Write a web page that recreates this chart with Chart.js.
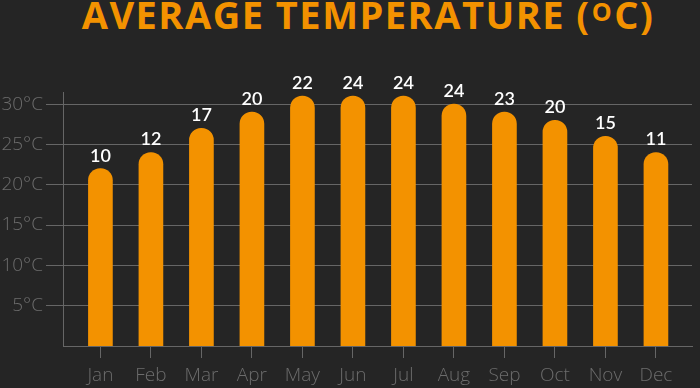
<!DOCTYPE html>
<html>
<head>
<meta charset="utf-8">
<script src="https://cdn.jsdelivr.net/npm/chart.js@4/dist/chart.umd.min.js"></script>
<style>
  html, body { margin: 0; padding: 0; background: #252525; }
  #wrap { position: relative; width: 700px; height: 388px; }
  #title {
    position: absolute; left: 0; top: -8px; width: 736px; text-align: center;
    font-family: "Open Sans", sans-serif; font-weight: 700; font-size: 38px;
    color: #f39200; line-height: 1.2; white-space: nowrap; letter-spacing: 1.5px;
  }
  #title sup { font-size: 0.66em; position: relative; top: -0.3em; vertical-align: baseline; margin: 0 1px; }
  canvas { position: absolute; left: 0; top: 0; }
</style>
</head>
<body>
<div id="wrap">
  <div id="title">AVERAGE TEMPERATURE (<sup>O</sup>C)</div>
  <canvas id="chart" width="700" height="388"></canvas>
</div>
<script>
const months = ['Jan', 'Feb', 'Mar', 'Apr', 'May', 'Jun', 'Jul', 'Aug', 'Sep', 'Oct', 'Nov', 'Dec'];
const highs = [22, 24, 27, 29, 31, 31, 31, 30, 29, 28, 26, 24];
const averages = [10, 12, 17, 20, 22, 24, 24, 24, 23, 20, 15, 11];
const yTicks = [5, 10, 15, 20, 25, 30];

const orange = '#f39200';
const gridColor = '#666666';
const tickColor = '#6c6c6c';

// average value written above each bar
const valueLabels = {
    id: 'valueLabels',
    afterDatasetsDraw(chart) {
        const ctx = chart.ctx;
        const meta = chart.getDatasetMeta(0);
        ctx.save();
        ctx.fillStyle = '#ffffff';
        ctx.font = '600 18px Lato, sans-serif';
        ctx.textAlign = 'center';
        ctx.textBaseline = 'alphabetic';
        meta.data.forEach((bar, i) => {
            ctx.fillText(String(averages[i]), bar.x, bar.y - 7);
        });
        ctx.restore();
    }
};

new Chart(document.getElementById('chart'), {
    type: 'bar',
    data: {
        datasets: [{
            data: months.map((m, i) => ({ x: i, y: highs[i] })),
            backgroundColor: orange,
            borderWidth: 0,
            barThickness: 24,
            borderRadius: { topLeft: 12, topRight: 12, bottomLeft: 0, bottomRight: 0 },
            borderSkipped: 'bottom',
        }],
    },
    options: {
        responsive: false,
        animation: false,
        layout: { padding: { top: 92, right: 8, left: 0, bottom: 0 } },
        plugins: {
            legend: { display: false },
            tooltip: { enabled: false },
            title: { display: false },
        },
        scales: {
            x: {
                type: 'linear',
                offset: false,
                min: -0.741,
                max: 11.714,
                afterBuildTicks: (scale) => {
                    scale.ticks = months.map((m, i) => ({ value: i }));
                },
                afterFit: (scale) => { scale.height = 42; },
                grid: { offset: false, drawOnChartArea: false, drawTicks: true, tickLength: 12, color: gridColor, lineWidth: 1 },
                border: { display: true, color: gridColor, width: 1 },
                ticks: {
                    callback: (v) => months[v],
                    color: tickColor,
                    font: { family: 'Open Sans', size: 19, weight: 300 },
                    padding: 6,
                    maxRotation: 0,
                    autoSkip: false,
                },
            },
            y: {
                min: 0,
                max: 31.5,
                afterBuildTicks: (scale) => {
                    scale.ticks = yTicks.map(v => ({ value: v }));
                },
                afterFit: (scale) => { scale.width = 63; },
                grid: { color: gridColor, lineWidth: 1, tickLength: 17, drawTicks: true },
                border: { display: true, color: gridColor, width: 1 },
                ticks: {
                    callback: (v) => v + '°C',
                    color: tickColor,
                    font: { family: 'Open Sans', size: 19, weight: 300 },
                    padding: 3,
                },
            },
        },
    },
    plugins: [valueLabels],
});
</script>
</body>
</html>
